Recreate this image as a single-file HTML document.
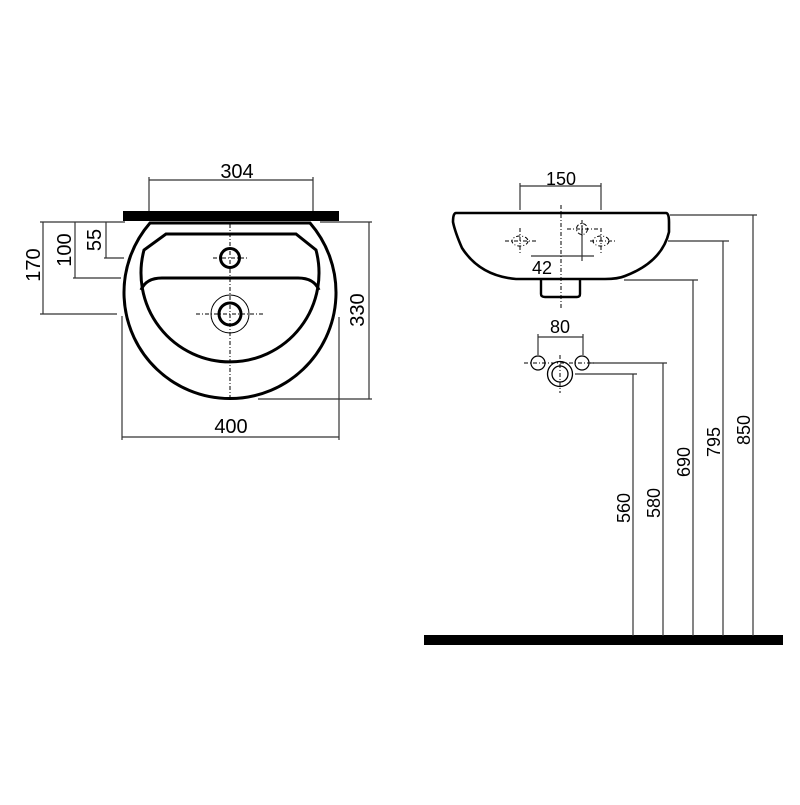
<!DOCTYPE html>
<html><head><meta charset="utf-8"><style>body{margin:0;background:#fff}</style></head><body>
<svg width="800" height="800" viewBox="0 0 800 800" xmlns="http://www.w3.org/2000/svg" font-family="Liberation Sans, sans-serif" font-size="20" fill="none" stroke="#000">
<!-- LEFT TOP VIEW -->
<rect x="123" y="211" width="216" height="10" fill="#000" stroke="none"/>
<g stroke-width="1.2" stroke="#333">
<line x1="149" y1="180" x2="313" y2="180"/><line x1="149" y1="177" x2="149" y2="211"/><line x1="313" y1="177" x2="313" y2="211"/>
<line x1="40" y1="222" x2="125" y2="222"/>
<line x1="43" y1="222" x2="43" y2="314"/><line x1="40" y1="314" x2="117" y2="314"/>
<line x1="75" y1="222" x2="75" y2="278"/><line x1="73" y1="278" x2="121" y2="278"/>
<line x1="106" y1="222" x2="106" y2="258"/><line x1="104" y1="258" x2="124" y2="258"/>
<line x1="320" y1="222" x2="372" y2="222"/><line x1="258" y1="399" x2="372" y2="399"/><line x1="369" y1="222" x2="369" y2="399"/>
<line x1="122" y1="437" x2="339" y2="437"/><line x1="122" y1="316" x2="122" y2="440"/><line x1="339" y1="317" x2="339" y2="440"/>
</g>
<path d="M150 223 L310 223 A106 106 0 1 1 150 223 Z" stroke-width="3" fill="#fff"/>
<path d="M166 234 L296 234 L316 250 A89 89 0 1 1 144 250 Z" stroke-width="3"/>
<path d="M141 290 Q146 278 162 278 L298 278 Q314 278 319 290" stroke-width="3"/>
<g stroke-width="1" stroke-dasharray="4 2 1 2">
<line x1="230" y1="224" x2="230" y2="400"/>
<line x1="213" y1="258" x2="247" y2="258"/>
<line x1="196" y1="314" x2="264" y2="314"/>
</g>
<circle cx="230" cy="258" r="9.5" stroke-width="3"/>
<circle cx="230" cy="314" r="11" stroke-width="3"/>
<circle cx="230" cy="314" r="19" stroke-width="1"/>
<g fill="#000" stroke="none" text-anchor="middle">
<text x="237" y="178">304</text>
<text x="231" y="433">400</text>
<text transform="translate(40,265) rotate(-90)">170</text>
<text transform="translate(71,250) rotate(-90)">100</text>
<text transform="translate(101,240) rotate(-90)">55</text>
<text transform="translate(364,310) rotate(-90)">330</text>
</g>
<!-- RIGHT SIDE VIEW -->
<rect x="424" y="635" width="359" height="10" fill="#000" stroke="none"/>
<g stroke-width="1.2" stroke="#333">
<line x1="520" y1="186" x2="601" y2="186"/><line x1="520" y1="183" x2="520" y2="210"/><line x1="601" y1="183" x2="601" y2="210"/>
<line x1="670" y1="215" x2="757" y2="215"/><line x1="753" y1="215" x2="753" y2="636"/>
<line x1="668" y1="241" x2="729" y2="241"/><line x1="723" y1="241" x2="723" y2="636"/>
<line x1="624" y1="280" x2="698" y2="280"/><line x1="693" y1="280" x2="693" y2="636"/>
<line x1="590" y1="363" x2="667" y2="363"/><line x1="663" y1="363" x2="663" y2="636"/>
<line x1="575" y1="374" x2="637" y2="374"/><line x1="633" y1="374" x2="633" y2="636"/>
<line x1="538" y1="337" x2="583" y2="337"/><line x1="538" y1="334" x2="538" y2="355"/><line x1="583" y1="334" x2="583" y2="355"/>
<line x1="531" y1="256" x2="594" y2="256"/><line x1="582" y1="225" x2="582" y2="261"/>
</g>
<path d="M456 213 L666 213 Q669 213 669 222 L669 232 Q662 262 625 276 Q618 279 605 279 L516 279 Q480 276 462 248 Q455 232 453 222 Q453 213 456 213 Z" stroke-width="2.6"/>
<path d="M541 280 L541 294 Q541 297 545 297 L577 297 Q580 297 580 294 L580 280" stroke-width="2.4"/>
<g stroke-width="1" stroke-dasharray="4 2 1 2">
<line x1="561" y1="205" x2="561" y2="310"/>
<line x1="505" y1="241" x2="536" y2="241"/><line x1="520" y1="228" x2="520" y2="253"/>
<line x1="567" y1="229" x2="598" y2="229"/><line x1="582" y1="220" x2="582" y2="238"/>
<line x1="590" y1="241" x2="616" y2="241"/><line x1="601" y1="228" x2="601" y2="253"/>
<ellipse cx="520" cy="241" rx="8" ry="5"/><circle cx="582" cy="229" r="5.5"/><ellipse cx="601" cy="241" rx="8" ry="5"/>
<line x1="524" y1="363" x2="596" y2="363"/>
<line x1="560" y1="355" x2="560" y2="393"/>
</g>
<circle cx="538" cy="363" r="7" stroke-width="1.2"/>
<circle cx="582" cy="363" r="7" stroke-width="1.2"/>
<circle cx="560" cy="374" r="12.5" stroke-width="1.3"/>
<circle cx="560" cy="374" r="8" stroke-width="1.3"/>
<g fill="#000" stroke="none" text-anchor="middle" font-size="18">
<text x="561" y="185">150</text>
<text x="542" y="274">42</text>
<text x="560" y="333">80</text>
<text transform="translate(630,508) rotate(-90)">560</text>
<text transform="translate(660,503) rotate(-90)">580</text>
<text transform="translate(690,462) rotate(-90)">690</text>
<text transform="translate(720,442) rotate(-90)">795</text>
<text transform="translate(750,430) rotate(-90)">850</text>
</g>
</svg>
</body></html>
